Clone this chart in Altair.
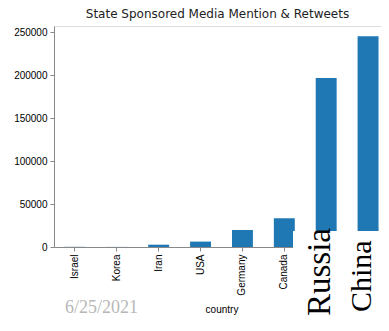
import altair as alt
import pandas as pd

countries = ["Israel", "Korea", "Iran", "USA", "Germany", "Canada", "Russia", "China"]
mentions = [200, 100, 2700, 6300, 19800, 33500, 197000, 245500]
y_ticks = [0, 50000, 100000, 150000, 200000, 250000]
big_labels = ["Russia", "China"]
date_label = "6/25/2021"

df = pd.DataFrame({"country": countries, "count": mentions})
lab = pd.DataFrame({"country": big_labels})

xs = alt.X("country:N", sort=countries,
           scale=alt.Scale(paddingInner=0.5, paddingOuter=0.25, range=[0, 335]),
           axis=alt.Axis(title="country", labelAngle=270, labelAlign="right",
                         labelBaseline="middle", labelFontSize=10, labelPadding=3,
                         tickSize=4, titleFontSize=10, titleFontWeight="normal",
                         titlePadding=9, zindex=0))

bars = alt.Chart(df).mark_bar(color="#1f77b4").encode(
    x=xs,
    y=alt.Y("count:Q", scale=alt.Scale(domain=[0, 257500], nice=False),
            axis=alt.Axis(title=None, values=y_ticks, format="d", grid=False,
                          labelFontSize=10, tickSize=4, labelPadding=3, zindex=0)),
)

cover = alt.Chart(lab).mark_rect(color="white").encode(
    x=alt.value(239), x2=alt.value(327), y=alt.value(205), y2=alt.value(291)
)

russia = alt.Chart(lab).transform_filter(alt.datum.country == "Russia").mark_text(
    angle=270, align="left", baseline="alphabetic", font="Liberation Serif",
    fontSize=33, color="black", dy=4
).encode(x=alt.X("country:N", sort=countries), y=alt.value(290), text="country:N")

china = alt.Chart(lab).transform_filter(alt.datum.country == "China").mark_text(
    angle=270, align="left", baseline="alphabetic", font="Liberation Serif",
    fontSize=30, color="black", dy=3
).encode(x=alt.X("country:N", sort=countries), y=alt.value(286), text="country:N")

date = alt.Chart(pd.DataFrame({"t": [date_label]})).mark_text(
    align="left", baseline="alphabetic", font="Liberation Serif", fontSize=18,
    color="#b8b8b8"
).encode(x=alt.value(11), y=alt.value(287), text="t:N")

chart = alt.layer(bars, cover, russia, china, date).properties(
    width=327, height=221,
    title=alt.Title("State Sponsored Media Mention & Retweets", fontSize=12,
                    fontWeight="normal", font="DejaVu Sans", color="#222", offset=5),
    autosize=alt.AutoSizeParams(type="none"),
    padding={"left": 46, "top": 18, "right": 0, "bottom": 70},
).configure_view(stroke="black", strokeWidth=1).configure_axis(
    domainColor="black", tickColor="black", labelColor="#222", titleColor="#222",
    labelFont="DejaVu Sans", titleFont="DejaVu Sans"
).configure(background="white")

chart.save("out.html", embed_options={"renderer": "svg", "actions": False})
